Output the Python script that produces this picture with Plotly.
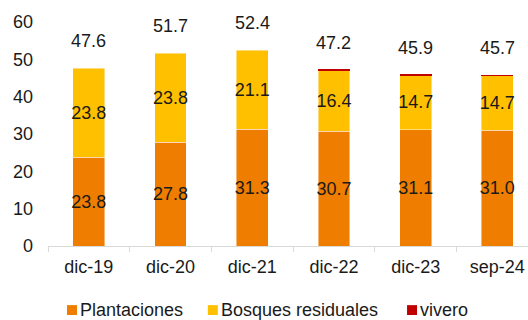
import plotly.graph_objects as go

categories = ["dic-19", "dic-20", "dic-21", "dic-22", "dic-23", "sep-24"]
plantaciones = [23.8, 27.8, 31.3, 30.7, 31.1, 31.0]
bosques = [23.8, 23.8, 21.1, 16.4, 14.7, 14.7]
vivero = [0.0, 0.0, 0.0, 0.07, 0.02, 0.05]
totales = [47.6, 51.7, 52.4, 47.2, 45.9, 45.7]
yticks = [0, 10, 20, 30, 40, 50, 60]

series_names = ["Plantaciones", "Bosques residuales", "vivero"]
series_colors = ["#EE7D00", "#FFC000", "#C00000"]

FONT = "Liberation Sans, Arial, sans-serif"
TXT = "#1a1a1a"
bar_w = 0.39
line = dict(color="rgba(255,255,255,0.6)", width=0.75)

fig = go.Figure()
for vals, name, col, lab in zip([plantaciones, bosques, vivero], series_names,
                                series_colors, [True, True, False]):
    fig.add_trace(go.Bar(
        x=categories, y=vals, name=name, width=bar_w,
        marker=dict(color=col, line=line if lab else dict(width=0)),
        text=[f"{v:.1f}" for v in vals] if lab else None,
        textposition="inside" if lab else "none",
        insidetextanchor="middle", textangle=0,
        textfont=dict(color=TXT, size=18, family=FONT),
        showlegend=False,
    ))

for c, t in zip(categories, totales):
    fig.add_annotation(x=c, y=t, text=f"{t:.1f}", showarrow=False,
                       yshift=27, font=dict(size=18, color=TXT, family=FONT))

# legend drawn manually (square + label) below the plot
leg_sq_x = [0.0396, 0.333, 0.748]
sq_w = 0.0208
y0, y1 = -0.308, -0.264
for name, col, x in zip(series_names, series_colors, leg_sq_x):
    fig.add_shape(type="rect", xref="paper", yref="paper", x0=x, x1=x + sq_w,
                  y0=y0, y1=y1, fillcolor=col, line=dict(width=0))
    fig.add_annotation(xref="paper", yref="paper", x=x + sq_w + 0.004, y=(y0 + y1) / 2,
                       text=name, showarrow=False, xanchor="left", yanchor="middle",
                       borderpad=0,
                       font=dict(size=18, color=TXT, family=FONT))

fig.update_layout(
    barmode="stack",
    width=528, height=320,
    margin=dict(l=48, r=0, t=22, b=74),
    paper_bgcolor="white", plot_bgcolor="white",
    font=dict(family=FONT, size=18, color=TXT),
    uniformtext=dict(minsize=18, mode="show"),
    showlegend=False,
)
fig.update_xaxes(
    range=[-0.5, 5.375], showline=True, linecolor="#d9d9d9", linewidth=1,
    ticks="outside", tickson="boundaries", ticklen=5, tickcolor="#d9d9d9",
    showgrid=False, tickfont=dict(size=18, family=FONT, color=TXT),
    ticklabelstandoff=4,
)
fig.update_yaxes(
    range=[0, 60], tickvals=yticks, showgrid=False, zeroline=False,
    showline=False, ticks="", tickfont=dict(size=18, family=FONT, color=TXT),
    ticklabelstandoff=14,
)

fig.write_html("out.html")
